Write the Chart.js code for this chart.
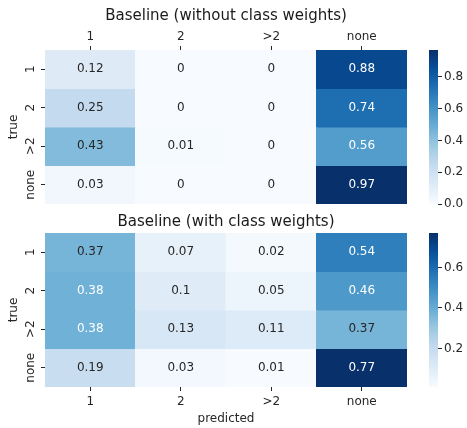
<!DOCTYPE html>
<html lang="en">
<head>
  <meta charset="UTF-8" />
  <title>Baseline confusion matrices</title>
  <script src="https://cdn.jsdelivr.net/npm/chart.js"></script>
  <style>
    body { margin: 0; background: #ffffff; }
    #wrap { position: relative; width: 467px; height: 428px; overflow: hidden; }
    canvas { position: absolute; }
  </style>
</head>
<body>
  <div id="wrap">
    <canvas id="heatTop" width="467" height="215" style="left:0;top:0;width:467px;height:215px"></canvas>
    <canvas id="barTop" width="47" height="215" style="left:420px;top:0;width:47px;height:215px"></canvas>
    <canvas id="heatBottom" width="467" height="223" style="left:0;top:205px;width:467px;height:223px"></canvas>
    <canvas id="barBottom" width="47" height="223" style="left:420px;top:205px;width:47px;height:223px"></canvas>
  </div>

  <script>
    // labels
    const predictedLabels = ['1', '2', '>2', 'none'];
    const trueLabels = ['1', '2', '>2', 'none'];

    // rows = true class, columns = predicted class
    const withoutWeights = [
      [0.12, 0, 0, 0.88],
      [0.25, 0, 0, 0.74],
      [0.43, 0.01, 0, 0.56],
      [0.03, 0, 0, 0.97]
    ];
    const withWeights = [
      [0.37, 0.07, 0.02, 0.54],
      [0.38, 0.1, 0.05, 0.46],
      [0.38, 0.13, 0.11, 0.37],
      [0.19, 0.03, 0.01, 0.77]
    ];

    // colour bar ticks
    const ticksTop = [0, 0.2, 0.4, 0.6, 0.8];
    const ticksBottom = [0.2, 0.4, 0.6];

    Chart.defaults.font.family = "'DejaVu Sans', sans-serif";
    Chart.defaults.color = '#262626';

    // matplotlib "Blues"
    const blues = ['#f7fbff', '#deebf7', '#c6dbef', '#9ecae1', '#6baed6', '#4292c6', '#2171b5', '#08519c', '#08306b'];
    const bluesRgb = blues.map(h => [1, 3, 5].map(i => parseInt(h.substr(i, 2), 16)));

    function bluesAt(t) {
      t = Math.min(1, Math.max(0, t));
      const p = t * (bluesRgb.length - 1);
      const i = Math.min(bluesRgb.length - 2, Math.floor(p));
      const f = p - i;
      return bluesRgb[i].map((c, k) => Math.round(c + (bluesRgb[i + 1][k] - c) * f));
    }

    function luminance(rgb) {
      const lin = rgb.map(c => {
        c /= 255;
        return c <= 0.03928 ? c / 12.92 : Math.pow((c + 0.055) / 1.055, 2.4);
      });
      return 0.2126 * lin[0] + 0.7152 * lin[1] + 0.0722 * lin[2];
    }

    const rgbStr = rgb => 'rgb(' + rgb.join(',') + ')';

    // write the value in the middle of each cell
    const annotate = {
      id: 'annotate',
      afterDatasetsDraw(chart) {
        const ctx = chart.ctx;
        const { vmin, vmax, matrix } = chart.options.plugins.annotate;
        ctx.save();
        ctx.font = '12px "DejaVu Sans"';
        ctx.textAlign = 'center';
        ctx.textBaseline = 'middle';
        chart.data.datasets.forEach((ds, r) => {
          chart.getDatasetMeta(r).data.forEach((el, c) => {
            const v = matrix[r][c];
            const lum = luminance(bluesAt((v - vmin) / (vmax - vmin)));
            ctx.fillStyle = lum > 0.408 ? '#262626' : '#ffffff';
            ctx.fillText(String(v), el.x, (el.y + el.base) / 2);
          });
        });
        ctx.restore();
      }
    };

    function heatmap(id, title, matrix, xPos, padding, xHeight, titlePad, xTickPad) {
      const flat = matrix.flat();
      const vmin = Math.min(...flat), vmax = Math.max(...flat);
      const datasets = matrix.map((row, r) => ({
        data: row.map(() => [r, r + 1]),
        backgroundColor: row.map(v => rgbStr(bluesAt((v - vmin) / (vmax - vmin)))),
        borderWidth: 0,
        inflateAmount: 0.5,
        barPercentage: 1,
        categoryPercentage: 1,
        grouped: false
      }));
      new Chart(document.getElementById(id), {
        type: 'bar',
        data: { labels: predictedLabels, datasets },
        plugins: [annotate],
        options: {
          responsive: false,
          animation: false,
          layout: { padding },
          plugins: {
            legend: { display: false },
            tooltip: { enabled: false },
            title: {
              display: true, text: title, fullSize: false,
              font: { size: 15, weight: 'normal' }, color: '#1a1a1a',
              padding: titlePad
            },
            annotate: { vmin, vmax, matrix }
          },
          scales: {
            x: {
              position: xPos,
              grid: { offset: false, drawOnChartArea: false, tickLength: 4, color: '#262626' },
              border: { display: false },
              ticks: { font: { size: 12 }, padding: xTickPad, maxRotation: 0 },
              title: { display: xPos === 'bottom', text: 'predicted', font: { size: 12 }, padding: { top: 2, bottom: 2 } },
              afterFit: s => { s.height = xHeight; }
            },
            y: {
              type: 'linear', min: 0, max: 4, reverse: true,
              afterBuildTicks: s => { s.ticks = [0.5, 1.5, 2.5, 3.5].map(value => ({ value })); },
              grid: { drawOnChartArea: false, tickLength: 4, color: '#262626' },
              border: { display: false },
              ticks: {
                font: { size: 12 }, padding: -5,
                minRotation: 90, maxRotation: 90, crossAlign: 'center',
                callback: (v, i) => trueLabels[i]
              },
              title: { display: true, text: 'true', font: { size: 12 }, padding: { top: 7, bottom: 0 } },
              afterFit: s => { s.width = 45; }
            }
          }
        }
      });
    }

    function colorbar(id, vmin, vmax, ticks, padding) {
      new Chart(document.getElementById(id), {
        type: 'bar',
        data: {
          labels: [''],
          datasets: [{
            data: [[vmin, vmax]],
            borderWidth: 0,
            barPercentage: 1,
            categoryPercentage: 1,
            backgroundColor: c => {
              const area = c.chart.chartArea;
              if (!area) return blues[4];
              const g = c.chart.ctx.createLinearGradient(0, area.bottom, 0, area.top);
              blues.forEach((col, i) => g.addColorStop(i / (blues.length - 1), col));
              return g;
            }
          }]
        },
        options: {
          responsive: false,
          animation: false,
          layout: { padding },
          plugins: { legend: { display: false }, tooltip: { enabled: false } },
          scales: {
            x: { display: false },
            y: {
              position: 'right', min: vmin, max: vmax,
              afterBuildTicks: s => { s.ticks = ticks.map(value => ({ value })); },
              grid: { drawOnChartArea: false, tickLength: 4, color: '#262626' },
              border: { display: false },
              ticks: { font: { size: 12 }, padding: 2, callback: v => v.toFixed(1) },
              afterFit: s => { s.width = 29; }
            }
          }
        }
      });
    }

    heatmap('heatTop', 'Baseline (without class weights)', withoutWeights, 'top',
      { left: 0, right: 60, top: 0, bottom: 11 }, 25, { top: 7, bottom: 0 }, 2);
    heatmap('heatBottom', 'Baseline (with class weights)', withWeights, 'bottom',
      { left: 0, right: 60, top: 0, bottom: 0 }, 41, { top: 8, bottom: 2 }, 4);

    const flatTop = withoutWeights.flat(), flatBottom = withWeights.flat();
    colorbar('barTop', Math.min(...flatTop), Math.max(...flatTop), ticksTop,
      { left: 9, right: 0, top: 50, bottom: 11 });
    colorbar('barBottom', Math.min(...flatBottom), Math.max(...flatBottom), ticksBottom,
      { left: 9, right: 0, top: 28, bottom: 41 });
  </script>
</body>
</html>
